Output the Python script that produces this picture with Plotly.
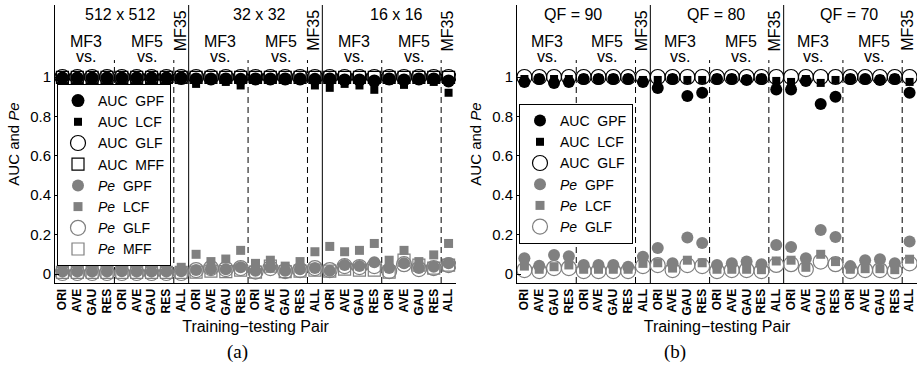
import plotly.graph_objects as go

# ---------------- data ----------------
tick_labels = ["ORI", "AVE", "GAU", "RES", "ORI", "AVE", "GAU", "RES", "ALL"] * 3
pos = list(range(27))

# panel (a)
auc_gpf_a = [0.995] * 9 + [0.99, 0.99, 0.99, 0.988, 0.99, 0.99, 0.99, 0.99, 0.988] + \
            [0.99, 0.985, 0.985, 0.98, 0.99, 0.985, 0.99, 0.99, 0.98]
auc_lcf_a = [0.998, 0.998, 0.997, 0.995, 0.998, 0.998, 0.997, 0.996, 0.997] + \
            [0.965, 0.985, 0.975, 0.957, 0.99, 0.99, 0.99, 0.99, 0.957] + \
            [0.945, 0.965, 0.957, 0.935, 0.982, 0.96, 0.985, 0.975, 0.92]
auc_glf_a = [1.0] * 27
auc_mff_a = [0.998] * 27
pe_gpf_a = [0.012, 0.012, 0.012, 0.012, 0.014, 0.012, 0.012, 0.012, 0.014] + \
           [0.02, 0.024, 0.024, 0.034, 0.017, 0.034, 0.017, 0.024, 0.03] + \
           [0.017, 0.046, 0.04, 0.06, 0.03, 0.054, 0.03, 0.037, 0.054]
pe_lcf_a = [0.034, 0.015, 0.016, 0.034, 0.02, 0.015, 0.015, 0.018, 0.034] + \
           [0.10, 0.063, 0.076, 0.12, 0.054, 0.07, 0.04, 0.063, 0.113] + \
           [0.14, 0.113, 0.12, 0.155, 0.07, 0.12, 0.063, 0.097, 0.155]
pe_glf_a = [0.005] * 9 + [0.02, 0.03, 0.025, 0.03, 0.012, 0.03, 0.015, 0.02, 0.03] + \
           [0.02, 0.04, 0.035, 0.04, 0.015, 0.05, 0.025, 0.03, 0.045]
pe_mff_a = [0.008] * 9 + [0.01, 0.015, 0.012, 0.02, 0.01, 0.04, 0.012, 0.015, 0.02] + \
           [0.015, 0.025, 0.02, 0.02, 0.01, 0.07, 0.045, 0.03, 0.045]

# panel (b)
auc_gpf_b = [0.975, 0.99, 0.97, 0.975, 0.99, 0.99, 0.99, 0.99, 0.975,
             0.944, 0.99, 0.903, 0.92, 0.99, 0.99, 0.985, 0.99, 0.937,
             0.937, 0.98, 0.863, 0.90, 0.99, 0.99, 0.985, 0.99, 0.92]
auc_lcf_b = [0.99, 0.995, 0.99, 0.99, 0.995, 0.995, 0.995, 0.995, 0.985,
             0.985, 0.995, 0.985, 0.985, 0.995, 0.995, 0.99, 0.995, 0.98,
             0.975, 0.99, 0.97, 0.985, 0.995, 0.99, 0.99, 0.995, 0.975]
auc_glf_b = [1.0] * 27
pe_gpf_b = [0.08, 0.042, 0.097, 0.09, 0.046, 0.046, 0.046, 0.037, 0.088,
            0.132, 0.054, 0.185, 0.157, 0.046, 0.054, 0.063, 0.05, 0.147,
            0.137, 0.08, 0.223, 0.188, 0.04, 0.07, 0.075, 0.054, 0.165]
pe_lcf_b = [0.04, 0.024, 0.037, 0.046, 0.024, 0.024, 0.024, 0.024, 0.054,
            0.057, 0.03, 0.07, 0.057, 0.024, 0.024, 0.024, 0.022, 0.066,
            0.07, 0.034, 0.10, 0.063, 0.024, 0.027, 0.027, 0.022, 0.075]
pe_glf_b = [0.02, 0.015, 0.03, 0.03, 0.015, 0.015, 0.015, 0.015, 0.04,
            0.045, 0.02, 0.045, 0.04, 0.015, 0.02, 0.02, 0.015, 0.046,
            0.05, 0.025, 0.063, 0.05, 0.015, 0.02, 0.02, 0.015, 0.054]

group_titles_a = ["512 x 512", "32 x 32", "16 x 16"]
group_pos_a = [3.85, 13.3, 22.5]
group_titles_b = ["QF = 90", "QF = 80", "QF = 70"]
group_pos_b = [3.3, 12.9, 21.9]

# ---------------- figure ----------------
FONT = "Liberation Sans, Arial, Helvetica, sans-serif"
BLACK = "#000000"
GREY = "#808080"
NB = "\u00a0\u00a0"

fig = go.Figure()


def add(y, name, symbol, size, color, xa, ya, legend):
    mk = dict(symbol=symbol, size=size, color=color)
    if symbol.endswith("open"):
        mk["line"] = dict(color=color, width=1.2)
    else:
        mk["line"] = dict(width=0)
    fig.add_trace(go.Scatter(x=pos, y=y, mode="markers", name=name, marker=mk,
                             xaxis=xa, yaxis=ya, legend=legend))


AUC = "AUC" + NB
PE = "<i>Pe</i>" + NB
# panel (a)
add(auc_gpf_a, AUC + "GPF", "circle", 13, BLACK, "x", "y", "legend")
add(auc_lcf_a, AUC + "LCF", "square", 8, BLACK, "x", "y", "legend")
add(auc_glf_a, AUC + "GLF", "circle-open", 15, BLACK, "x", "y", "legend")
add(auc_mff_a, AUC + "MFF", "square-open", 12, BLACK, "x", "y", "legend")
add(pe_gpf_a, PE + "GPF", "circle", 12, GREY, "x", "y", "legend")
add(pe_lcf_a, PE + "LCF", "square", 9, GREY, "x", "y", "legend")
add(pe_glf_a, PE + "GLF", "circle-open", 15, GREY, "x", "y", "legend")
add(pe_mff_a, PE + "MFF", "square-open", 12, GREY, "x", "y", "legend")
# panel (b)
add(auc_gpf_b, AUC + "GPF", "circle", 12, BLACK, "x2", "y2", "legend2")
add(auc_lcf_b, AUC + "LCF", "square", 8, BLACK, "x2", "y2", "legend2")
add(auc_glf_b, AUC + "GLF", "circle-open", 15, BLACK, "x2", "y2", "legend2")
add(pe_gpf_b, PE + "GPF", "circle", 12, GREY, "x2", "y2", "legend2")
add(pe_lcf_b, PE + "LCF", "square", 9, GREY, "x2", "y2", "legend2")
add(pe_glf_b, PE + "GLF", "circle-open", 15, GREY, "x2", "y2", "legend2")

W, H = 920, 379
YR = [-0.0457, 1.3655]
XR = [-0.5, 26.5]
ydom = [(H - 283) / H, (H - 5) / H]
xdom_a = [55 / W, 456 / W]
xdom_b = [517 / W, 917 / W]

xcommon = dict(range=XR, tickmode="array", tickvals=pos, ticktext=tick_labels,
               tickangle=-90, ticks="", showline=True, linecolor=BLACK, linewidth=1,
               showgrid=False, zeroline=False, mirror=False,
               tickfont=dict(family=FONT, size=12, color=BLACK, weight="bold"),
               title=dict(text="Training\u2212testing Pair", standoff=6,
                          font=dict(family=FONT, size=16, color=BLACK)))
ycommon = dict(range=YR, tickmode="array", tickvals=[0, 0.2, 0.4, 0.6, 0.8, 1],
               ticktext=["0", "0.2", "0.4", "0.6", "0.8", "1"], ticks="inside",
               ticklen=4, tickcolor=BLACK, showline=True, linecolor=BLACK, linewidth=1,
               showgrid=False, zeroline=False, domain=ydom,
               tickfont=dict(family=FONT, size=15, color=BLACK),
               title=dict(text="AUC and <i>Pe</i>", standoff=6,
                          font=dict(family=FONT, size=15, color=BLACK)))
bticks = dict(range=XR, tickmode="array", tickvals=[i + 0.5 for i in range(26)],
              ticks="inside", ticklen=4, tickcolor=BLACK, showticklabels=False,
              showline=False, showgrid=False, zeroline=False)

legcommon = dict(bgcolor="white", bordercolor=BLACK, borderwidth=1,
                 font=dict(family=FONT, size=14, color=BLACK),
                 xanchor="left", yanchor="top", itemwidth=30, tracegroupgap=0)

fig.update_layout(
    width=W, height=H, margin=dict(l=0, r=0, t=0, b=0),
    paper_bgcolor="white", plot_bgcolor="white",
    font=dict(family=FONT, color=BLACK),
    xaxis=dict(domain=xdom_a, anchor="y", **xcommon),
    yaxis=dict(anchor="x", **ycommon),
    xaxis2=dict(domain=xdom_b, anchor="y2", **xcommon),
    yaxis2=dict(anchor="x2", **ycommon),
    xaxis3=dict(overlaying="x", anchor="y", **bticks),
    xaxis4=dict(overlaying="x2", anchor="y2", **bticks),
    legend=dict(x=57 / W, y=(H - 84) / H, **legcommon),
    legend2=dict(x=519 / W, y=(H - 104) / H, **legcommon),
    showlegend=True,
)

shapes = []
annotations = []
for xr, yr, titles, gpos, mf3, mf5, mf35 in [
    ("x", "y", group_titles_a, group_pos_a, 1.6, 5.7, 7.95),
    ("x2", "y2", group_titles_b, group_pos_b, 1.5, 5.6, 7.9),
]:
    for g in range(3):
        if g > 0:
            shapes.append(dict(type="line", xref=xr, yref=yr, x0=9 * g - 0.5, x1=9 * g - 0.5,
                               y0=YR[0], y1=YR[1], line=dict(color=BLACK, width=1),
                               layer="below"))
        for d in (3.5, 7.5):
            xd = 9 * g + d
            shapes.append(dict(type="line", xref=xr, yref=yr, x0=xd, x1=xd,
                               y0=YR[0], y1=1.086,
                               line=dict(color=BLACK, width=1, dash="6px,4px"),
                               layer="below"))
        annotations.append(dict(xref=xr, yref=yr, x=gpos[g], y=1.315, text=titles[g],
                                showarrow=False, font=dict(family=FONT, size=16, color=BLACK)))
        for xm, lab in ((mf3, "MF3"), (mf5, "MF5")):
            annotations.append(dict(xref=xr, yref=yr, x=9 * g + xm, y=1.178, text=lab,
                                    showarrow=False, yanchor="middle",
                                    font=dict(family=FONT, size=16, color=BLACK)))
            annotations.append(dict(xref=xr, yref=yr, x=9 * g + xm, y=1.105, text="vs.",
                                    showarrow=False, yanchor="middle",
                                    font=dict(family=FONT, size=16, color=BLACK)))
        annotations.append(dict(xref=xr, yref=yr, x=9 * g + mf35, y=1.235, text="MF35",
                                textangle=-90, showarrow=False,
                                font=dict(family=FONT, size=16, color=BLACK)))

annotations.append(dict(xref="paper", yref="paper", x=225 / W, y=(H - 365) / H, text="(a)",
                        showarrow=False,
                        font=dict(family="Liberation Serif, DejaVu Serif, serif", size=19,
                                  color=BLACK)))
annotations.append(dict(xref="paper", yref="paper", x=688 / W, y=(H - 365) / H, text="(b)",
                        showarrow=False,
                        font=dict(family="Liberation Serif, DejaVu Serif, serif", size=19,
                                  color=BLACK)))

fig.update_layout(shapes=shapes, annotations=annotations)
fig.write_html("out.html")
